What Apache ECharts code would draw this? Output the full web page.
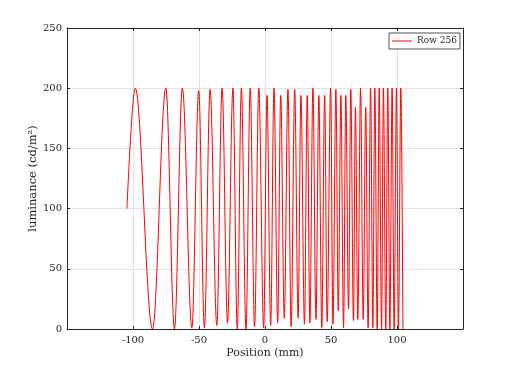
<!DOCTYPE html>
<html>
<head>
<meta charset="utf-8">
<script src="https://cdn.jsdelivr.net/npm/echarts@6/dist/echarts.min.js"></script>
<style>
html,body{margin:0;padding:0;background:#ffffff;}
#chart{width:512px;height:369px;}
</style>
</head>
<body>
<div id="chart"></div>
<script>
// Row 256 luminance profile: extrema
const positions = [
  -104.6, -98.3, -85.2, -75.1, -68.6, -62.6, -55.4, -50.2, -45.9, -41.6,
  -36.5, -32.5, -28.4, -24.3, -21.0, -17.9, -14.4, -11.2, -7.9, -4.7,
  -1.0, 1.5, 4.3, 6.8, 9.6, 11.9, 14.6, 17.4, 19.8, 22.5,
  25.1, 27.2, 29.9, 32.0, 34.0, 36.3, 38.6, 40.8, 43.0, 45.2,
  47.1, 49.7, 51.5, 53.7, 55.5, 57.5, 59.5, 61.2, 63.3, 65.0,
  67.0, 68.5, 70.3, 72.4, 74.4, 76.3, 78.1, 80.0, 81.7, 83.2,
  85.0, 86.5, 88.3, 89.7, 91.5, 93.0, 94.6, 96.3, 97.8, 99.6,
  101.1, 102.9, 104.5
];
const luminance = [
  100, 200, 0, 200, 0, 200, 1, 198, 1, 199,
  3, 200, 5, 200, 0, 200, 0, 200, 2, 200,
  1, 194, 3, 200, 5, 194, 9, 199, 2, 199,
  9, 194, 4, 194, 5, 200, 8, 194, 1, 194,
  6, 200, 4, 199, 15, 194, 1, 194, 17, 199,
  7, 184, 8, 200, 8, 184, 1, 200, 1, 200,
  0, 200, 0, 200, 0, 200, 0, 200, 0, 200,
  0, 200, 0
];
const seriesName = 'Row 256';
const xTicks = { min: -150, max: 150, interval: 50 };
const yTicks = { min: 0, max: 250, interval: 50 };
const xLabel = 'Position (mm)';
const yLabel = 'luminance (cd/m\u00B2)';

const FONT = 'DejaVu Serif';
const AX = '#262626';
const GRID = '#e3e3e3';

const chart = echarts.init(document.getElementById('chart'), null, { renderer: 'canvas' });

function baseAxis(t, extra) {
  return Object.assign({
    type: 'value',
    min: t.min, max: t.max, interval: t.interval,
    axisLine: { show: true, onZero: false, lineStyle: { color: AX, width: 1 } },
    axisTick: { show: true, inside: true, length: 3, lineStyle: { color: AX, width: 1 } },
    splitLine: { show: false }
  }, extra);
}

const option = {
  animation: false,
  backgroundColor: '#ffffff',
  grid: { left: 67, right: 49, top: 28, bottom: 40, containLabel: false },
  legend: {
    data: [{ name: seriesName, icon: 'rect' }],
    left: 389, top: 33,
    orient: 'vertical',
    padding: [2, 3, 2, 3],
    itemWidth: 20, itemHeight: 1, itemGap: 0,
    backgroundColor: '#ffffff',
    borderColor: AX, borderWidth: 0.8, borderRadius: 0,
    itemStyle: { color: '#ff0000', borderWidth: 0 },
    textStyle: { fontFamily: FONT, fontSize: 9, color: AX, lineHeight: 12 },
    selectedMode: false
  },
  xAxis: [
    baseAxis(xTicks, {
      position: 'bottom',
      axisLabel: { show: true, showMinLabel: false, showMaxLabel: false, margin: 6,
        fontFamily: FONT, fontSize: 10, color: AX },
      splitLine: { show: true, lineStyle: { color: GRID, width: 1 } },
      name: xLabel, nameLocation: 'middle', nameGap: 19, nameMoveOverlap: false,
      nameTextStyle: { fontFamily: FONT, fontSize: 11, color: AX }
    }),
    baseAxis(xTicks, { position: 'top', axisLabel: { show: false } })
  ],
  yAxis: [
    baseAxis(yTicks, {
      position: 'left',
      axisLabel: { show: true, margin: 5, fontFamily: FONT, fontSize: 10, color: AX },
      splitLine: { show: true, lineStyle: { color: GRID, width: 1 } },
      name: yLabel, nameLocation: 'middle', nameGap: 28, nameMoveOverlap: false,
      nameTextStyle: { fontFamily: FONT, fontSize: 11.5, color: AX }
    }),
    baseAxis(yTicks, { position: 'right', axisLabel: { show: false } })
  ],
  series: [{
    type: 'line',
    name: seriesName,
    xAxisIndex: 0, yAxisIndex: 0,
    data: positions.map((p, i) => [p, luminance[i]]),
    showSymbol: false,
    symbol: 'none',
    smooth: 0.36,
    smoothMonotone: 'x',
    lineStyle: { color: '#ff0000', width: 1 },
    itemStyle: { color: '#ff0000' },
    silent: true,
    emphasis: { disabled: true }
  }]
};
chart.setOption(option);
</script>
</body>
</html>
